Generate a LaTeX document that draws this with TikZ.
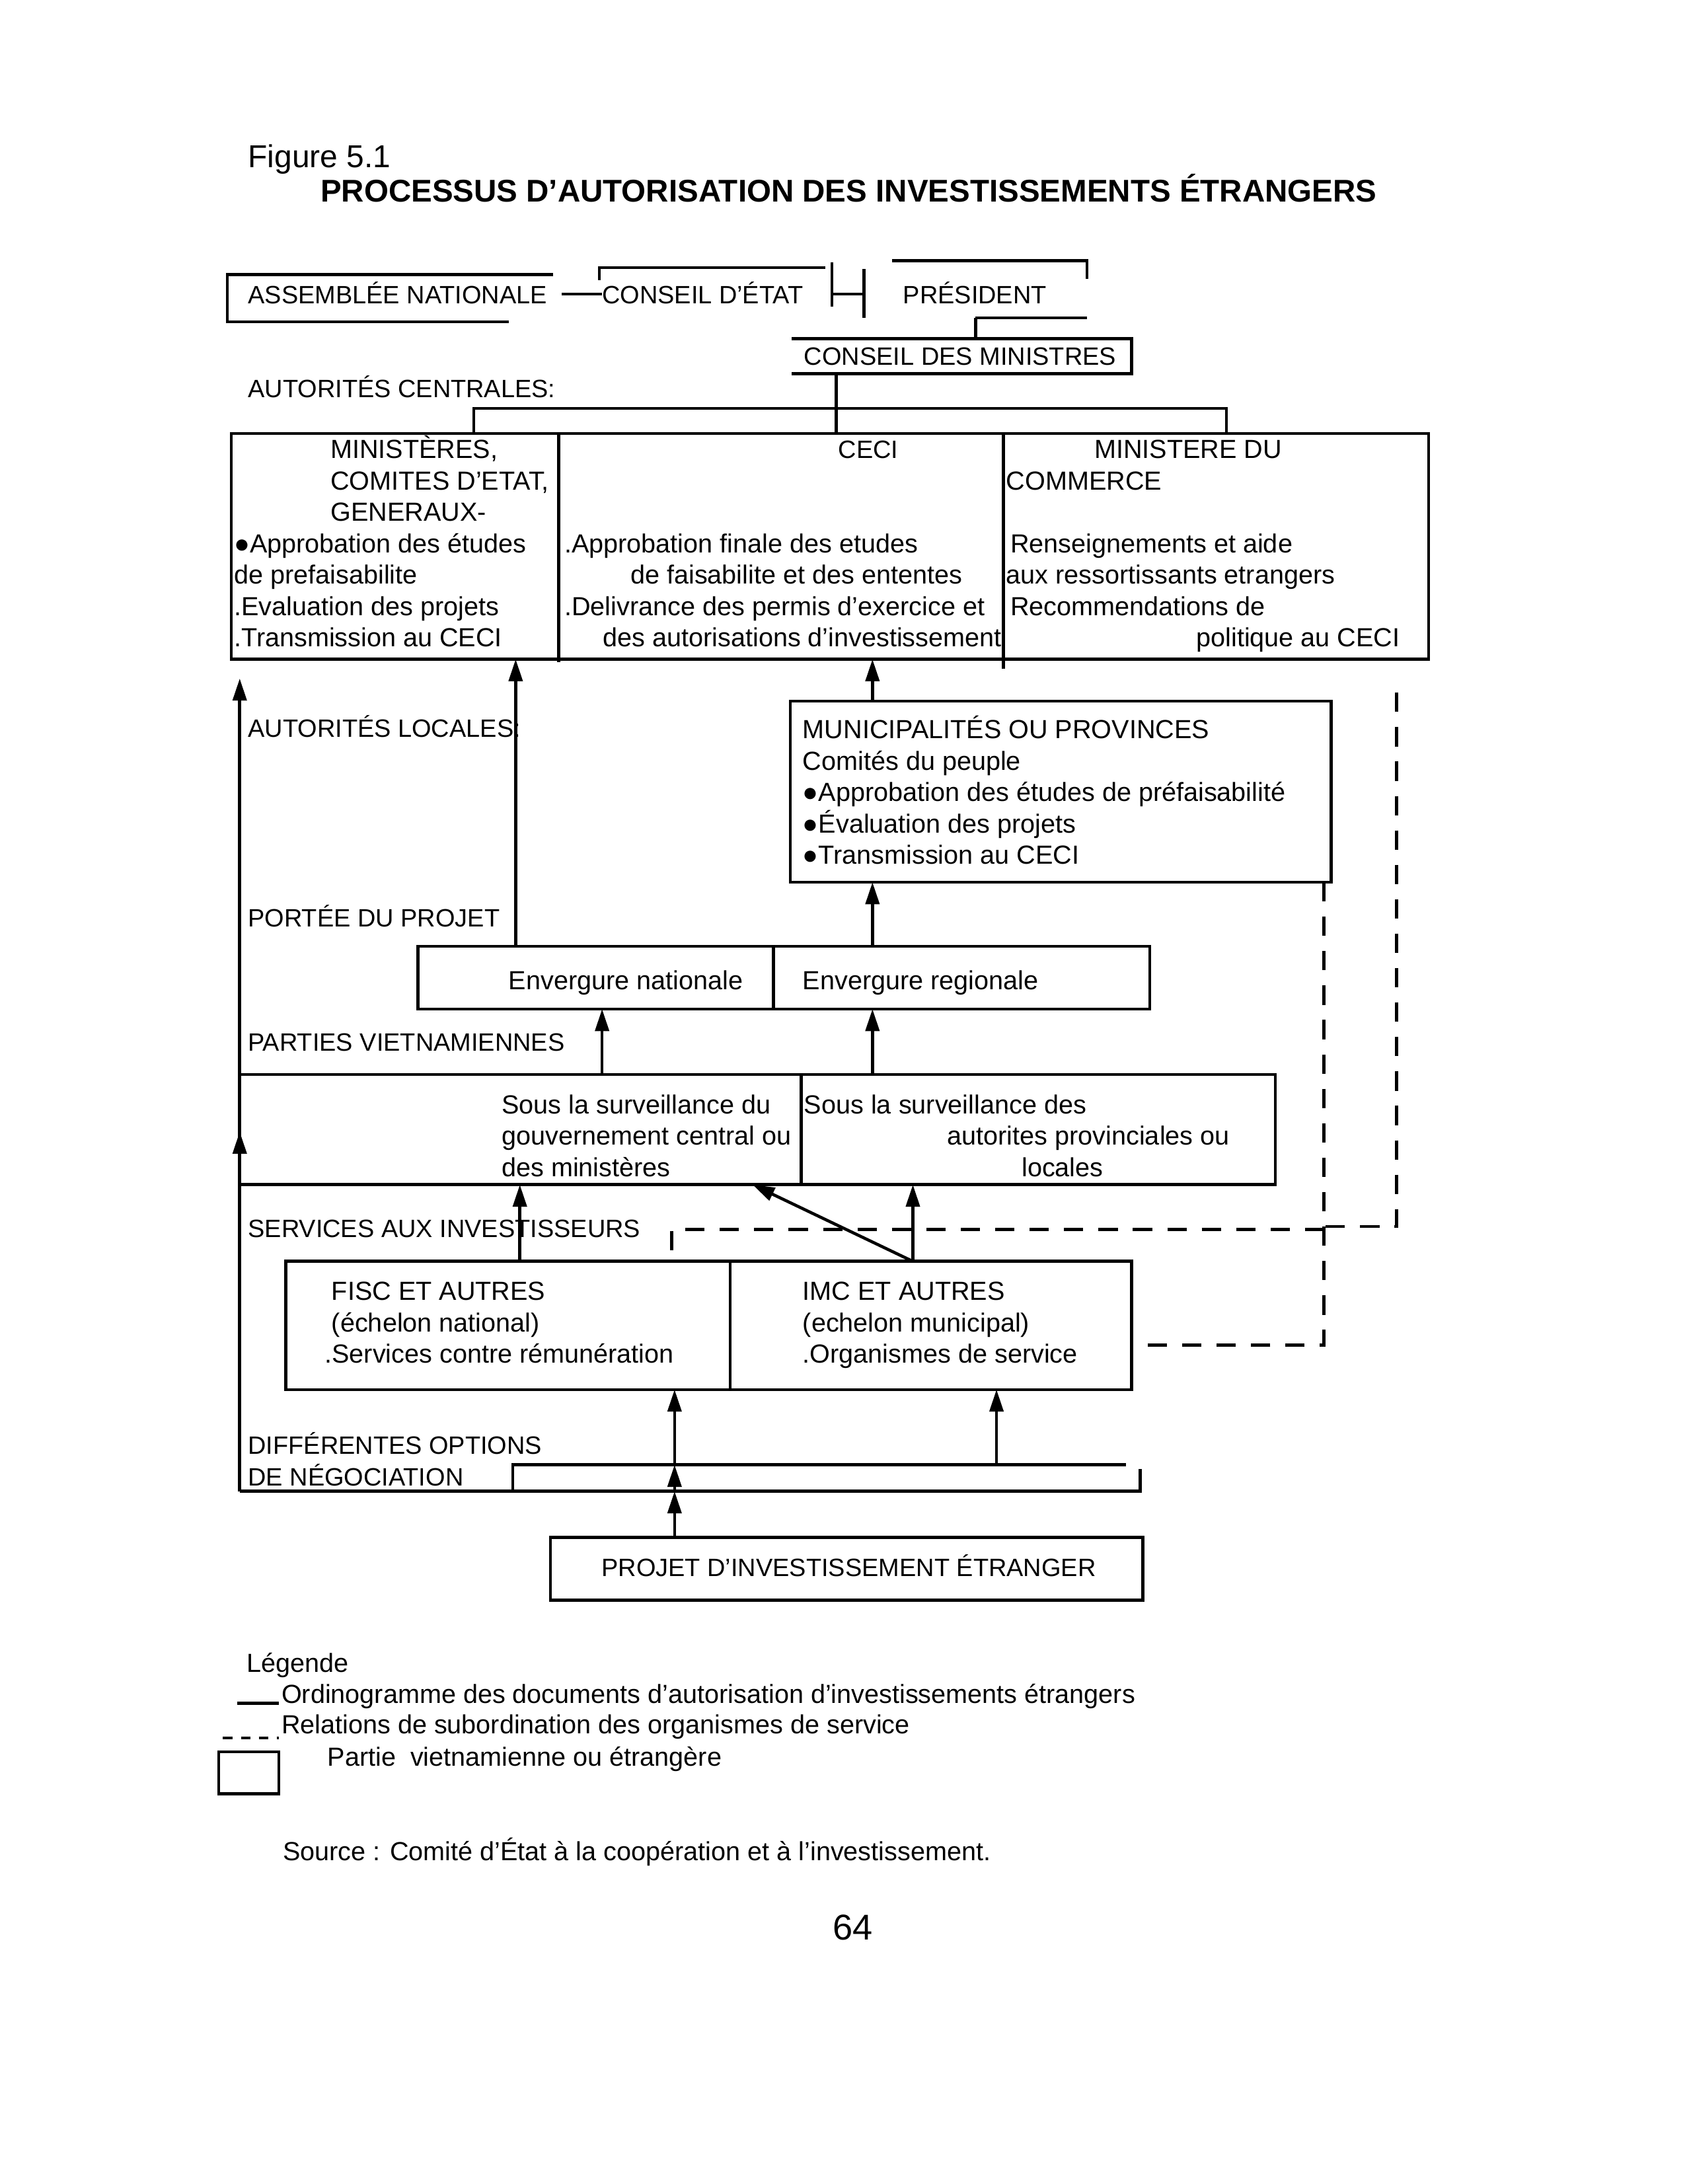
\documentclass[tikz,border=0pt]{standalone}
\usepackage{fontspec}
\setmainfont{Liberation Sans}
\usetikzlibrary{arrows.meta}

\def\pxu{0.506pt}

\begin{document}
\begin{tikzpicture}[x=\pxu, y=-\pxu,
	every node/.style={inner sep=0pt, outer sep=0pt},
	txt/.style={anchor=base west, align=left, font=\fontsize{9.5}{11.4}\selectfont},
	caps/.style={txt, font=\fontsize{9.1}{11.4}\selectfont},
	ln/.style={line width=1.1pt},
	box/.style={draw, line width=1.1pt, anchor=north west},
	arr/.style={line width=1.1pt, -{Triangle[length=8pt,width=5pt]}},
	dsh/.style={line width=1.1pt, dash pattern=on 7pt off 5.5pt}]
	
	\useasboundingbox (0,0) rectangle (1210,1567);
	
	\node[anchor=base west, font=\fontsize{11.5}{14}\selectfont] (fig) at (178,120) {Figure 5.1};
	\node[anchor=base west, font=\bfseries\fontsize{11.4}{14}\selectfont] (title) at (230,145) {PROCESSUS D’AUTORISATION DES INVESTISSEMENTS ÉTRANGERS};
	
	% autorites centrales
	\node[caps] (an) at (178,218) {ASSEMBLÉE NATIONALE};
	\node[caps] (ce) at (432,218) {CONSEIL D’ÉTAT};
	\node[caps] (pres) at (648,218) {PRÉSIDENT};
	\node[caps] (cdm) at (577,262) {CONSEIL DES MINISTRES};
	\node[caps] (autc) at (178,285) {AUTORITÉS CENTRALES:};
	
	\draw[ln] (397,197) -- (163,197) -- (163,231) -- (365,231);
	\draw[ln] (430,201) -- (430,192) -- (592,192);
	\draw[ln] (597,188) -- (597,220);
	\draw[ln] (620,193) -- (620,228);
	\draw[ln] (640,187) -- (780,187) -- (780,200);
	\draw[ln] (700,228) -- (780,228);
	\draw[ln] (568,243) -- (812,243) -- (812,268) -- (568,268);
	\draw[ln] (403,211) -- (ce.west |- 0,211);
	\draw[ln] (597,211) -- (620,211);
	\draw[ln] (700,228) -- (700,243);
	
	\node[box, minimum width=859*\pxu, minimum height=162*\pxu] (cen) at (166,311) {};
	\draw[ln] (401,311) -- (401,475);
	\draw[ln] (720,311) -- (720,480);
	\draw[ln] (600,268) -- (cen.north -| 600,0);
	\draw[ln] (340,311) -- (340,293) -- (880,293) -- (880,311);
	
	% multi-line texts are placed by the baseline of their last line
	\node[txt] (mins) at (168,464) {\hspace*{35pt}MINISTÈRES,\\ \hspace*{35pt}COMITES D’ETAT,\\ \hspace*{35pt}GENERAUX-\\ ●Approbation des études\\ de prefaisabilite\\ .Evaluation des projets\\ .Transmission au CECI};
	\node[caps, anchor=base] (ceci) at (623,329) {CECI};
	\node[txt] (cecitxt) at (405,464) {.Approbation finale des etudes\\ \hspace*{24pt}de faisabilite et des ententes\\ .Delivrance des permis d’exercice et\\ \hspace*{14pt}des autorisations d’investissement};
	\node[txt] (comm) at (722,464) {\hspace*{32pt}MINISTERE DU\\ COMMERCE\\ \mbox{}\\ \hspace*{1.5pt}Renseignements et aide\\ aux ressortissants etrangers\\ \hspace*{1.5pt}Recommendations de\\ \hspace*{69pt}politique au CECI};
	
	% autorites locales
	\node[caps] (autl) at (178,529) {AUTORITÉS LOCALES:};
	\node[box, minimum width=388*\pxu, minimum height=130*\pxu] (muni) at (567,503) {};
	\node[txt] (munitxt) at (576,620) {MUNICIPALITÉS OU PROVINCES\\ Comités du peuple\\ ●Approbation des études de préfaisabilité\\ ●Évaluation des projets\\ ●Transmission au CECI};
	
	\node[caps] (portee) at (178,665) {PORTÉE DU PROJET};
	\node[box, minimum width=525*\pxu, minimum height=45*\pxu] (env) at (300,679) {};
	\draw[ln] (555,679) -- (555,724);
	\node[txt] (envnat) at (365,710) {Envergure nationale};
	\node[txt] (envreg) at (576,710) {Envergure regionale};
	
	\node[caps] (partvn) at (178,754) {PARTIES VIETNAMIENNES};
	\node[box, minimum width=743*\pxu, minimum height=79*\pxu] (sous) at (172,771) {};
	\draw[ln] (575,771) -- (575,850);
	\node[txt] (sousg) at (360,844) {Sous la surveillance du\\ gouvernement central ou\\ des ministères};
	\node[txt] (sousp) at (577,844) {Sous la surveillance des\\ \hspace*{52pt}autorites provinciales ou\\ \hspace*{79pt}locales};
	
	\node[caps] (serv) at (178,888) {SERVICES AUX INVESTISSEURS};
	\node[box, minimum width=607*\pxu, minimum height=92*\pxu] (svc) at (205,905) {};
	\draw[ln] (524,905) -- (524,997);
	\node[txt] (fisc) at (238,978) {FISC ET AUTRES\\ (échelon national)\\ \hspace*{-2.5pt}.Services contre rémunération};
	\node[txt] (imc) at (576,978) {IMC ET AUTRES\\ (echelon municipal)\\ .Organismes de service};
	
	\node[caps] (diff) at (178,1066) {DIFFÉRENTES OPTIONS\\ DE NÉGOCIATION};
	\coordinate (negb) at (172,1070);
	\coordinate (negt) at (368,1051);
	\draw[ln] (negb) -- (818,1070) -- (818,1054);
	\draw[ln] (368,1070) -- (negt) -- (808,1051);
	
	\node[box, minimum width=425*\pxu, minimum height=45*\pxu] (proj) at (395,1103) {};
	\node[caps, anchor=base] (projtxt) at (609,1131) {PROJET D’INVESTISSEMENT ÉTRANGER};
	
	% fleches
	\coordinate (xl) at (172,812);
	\coordinate (xnat) at (370,0);
	\coordinate (xmun) at (626,0);
	\coordinate (xsn) at (432,0);
	\coordinate (xfi) at (373,0);
	\coordinate (xim) at (655,0);
	\coordinate (xdg) at (540,0);
	\coordinate (xpj) at (484,0);
	\coordinate (xop) at (715,0);
	
	\draw[arr] (env.north -| xnat) -- (cen.south -| xnat);
	\draw[arr] (muni.north -| xmun) -- (cen.south -| xmun);
	\draw[arr] (env.north -| xmun) -- (muni.south -| xmun);
	\draw[arr] (sous.north -| xsn) -- (env.south -| xsn);
	\draw[arr] (sous.north -| xmun) -- (env.south -| xmun);
	\draw[arr] (svc.north -| xfi) -- (sous.south -| xfi);
	\draw[arr] (svc.north -| xim) -- (sous.south -| xim);
	\draw[arr] (svc.north -| xim) -- (sous.south -| xdg);
	\draw[arr] (proj.north -| xpj) -- (negb -| xpj);
	\draw[arr] (negb -| xpj) -- (negt -| xpj);
	\draw[arr] (negt -| xpj) -- (svc.south -| xpj);
	\draw[arr] (negt -| xop) -- (svc.south -| xop);
	\draw[arr] (negb) -- (xl);
	\draw[arr] (xl) -- ([yshift=-7pt]cen.south -| xl);
	
	% organismes de service
	\draw[dsh] (1002,497) -- (1002,880) -- (950,880);
	\draw[dsh] (muni.south -| 950,0) -- (950,965) -- (svc.east |- 0,965);
	\draw[dsh] (482,897) -- (482,882) -- (950,882);
	
	% legende
	\node[txt] (leg) at (177,1200) {Légende};
	\draw[ln] (170,1222) -- (200,1222);
	\node[txt] (legdoc) at (202,1222) {Ordinogramme des documents d’autorisation d’investissements étrangers};
	\draw[line width=1.1pt, dash pattern=on 3.5pt off 3pt] (160,1247) -- (200,1247);
	\node[txt] (legsub) at (202,1244) {Relations de subordination des organismes de service};
	\draw[ln] (157,1257) rectangle (200,1287);
	\node[txt] (legpart) at (235,1267) {Partie\ \ vietnamienne ou étrangère};
	
	\node[txt] (src) at (203,1335) {Source : Comité d’État à la coopération et à l’investissement.};
	\node[anchor=base, font=\fontsize{13}{15}\selectfont] (page) at (612,1392) {64};
	
\end{tikzpicture}
\end{document}
